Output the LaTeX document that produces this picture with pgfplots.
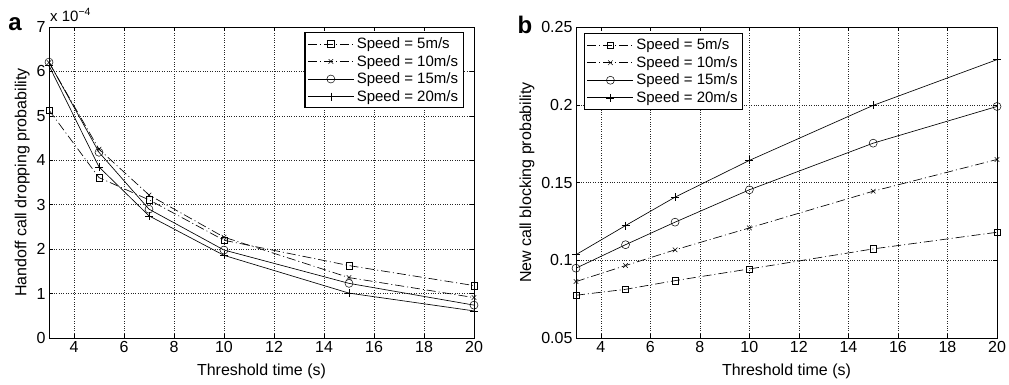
\documentclass[border=0pt]{standalone}
\usepackage{pgfplots}
\pgfplotsset{compat=1.18}
\usepackage{fontspec}
\setmainfont{Liberation Sans}
\begin{document}
\begin{tikzpicture}
\useasboundingbox (0,0) rectangle (1009pt,384pt);
\pgfplotsset{
  mystyle/.style={
    scale only axis, height=311pt,
    xmin=3, xmax=20, xtick={4,6,...,20},
    tick align=inside, major tick length=4pt,
    grid=major, major grid style={dotted, black!85, line width=0.5pt},
    axis line style={line width=0.7pt},
    tick style={black, line width=0.5pt},
    ticklabel style={font=\fontsize{16}{16}\selectfont},
    label style={font=\fontsize{16}{16}\selectfont},
    xlabel={Threshold time (s)},
    xlabel style={yshift=-4pt},
    /pgf/number format/assume math mode=true,
    legend style={font=\fontsize{15}{16}\selectfont, draw=black, line width=1.2pt, inner sep=2.5pt,
      nodes={inner sep=2.6pt}},
    legend cell align=left,
    legend image code/.code={\draw[mark repeat=2,mark phase=2] plot coordinates {(0pt,0pt) (23pt,0pt) (46pt,0pt)};},
  },
  dd/.style={line width=0.65pt, dash pattern=on 9pt off 3pt on 1pt off 3pt},
  sl/.style={line width=0.65pt, solid},
}
\begin{axis}[mystyle, width=425pt, at={(49pt,46pt)}, anchor=south west,
  ymin=0, ymax=7, ytick={0,1,...,7},
  ylabel={Handoff call dropping probability},
  legend style={at={(0.976,0.984)}, anchor=north east}]
\addplot[black, dd, mark=square, mark size=3.2pt, mark options={solid, line width=0.5pt}] coordinates {(3,5.13) (5,3.61) (7,3.11) (10,2.2) (15,1.63) (20,1.18)};
\addplot[black, dd, mark=x, mark size=3.2pt, mark options={solid, line width=0.5pt}] coordinates {(3,6.2) (5,4.25) (7,3.22) (10,2.27) (15,1.36) (20,0.91)};
\addplot[black, sl, mark=o, mark size=4pt, mark options={solid, line width=0.5pt}] coordinates {(3,6.21) (5,4.18) (7,2.9) (10,1.98) (15,1.23) (20,0.74)};
\addplot[black, sl, mark=+, mark size=4pt, mark options={solid, line width=0.5pt}] coordinates {(3,6.13) (5,3.85) (7,2.75) (10,1.86) (15,1.01) (20,0.61)};
\legend{Speed = 5m/s, Speed = 10m/s, Speed = 15m/s, Speed = 20m/s}
\end{axis}
\begin{axis}[mystyle, width=421pt, at={(576pt,46pt)}, anchor=south west,
  ymin=0.05, ymax=0.25, ytick={0.05,0.1,0.15,0.2,0.25}, yticklabels={0.05,0.1,0.15,0.2,0.25},
  ylabel={New call blocking probability},
  legend style={at={(0.019,0.98)}, anchor=north west}]
\addplot[black, dd, mark=square, mark size=3.2pt, mark options={solid, line width=0.5pt}] coordinates {(3,0.0775) (5,0.0813) (7,0.0869) (10,0.0944) (15,0.1073) (20,0.118)};
\addplot[black, dd, mark=x, mark size=3.2pt, mark options={solid, line width=0.5pt}] coordinates {(3,0.0863) (5,0.0966) (7,0.1067) (10,0.1208) (15,0.1444) (20,0.1648)};
\addplot[black, sl, mark=o, mark size=4pt, mark options={solid, line width=0.5pt}] coordinates {(3,0.0949) (5,0.110) (7,0.1245) (10,0.1453) (15,0.1753) (20,0.1989)};
\addplot[black, sl, mark=+, mark size=4pt, mark options={solid, line width=0.5pt}] coordinates {(3,0.1036) (5,0.1223) (7,0.1406) (10,0.1642) (15,0.1996) (20,0.229)};
\legend{Speed = 5m/s, Speed = 10m/s, Speed = 15m/s, Speed = 20m/s}
\end{axis}
\node[font=\bfseries\fontsize{24}{24}\selectfont] at (15pt,360pt) {a};
\node[font=\bfseries\fontsize{24}{24}\selectfont] at (525pt,359pt) {b};
\node[anchor=west, font=\fontsize{15}{15}\selectfont, inner sep=0pt] at (50pt,369pt) {x 10\textsuperscript{−4}};
\end{tikzpicture}
\end{document}
